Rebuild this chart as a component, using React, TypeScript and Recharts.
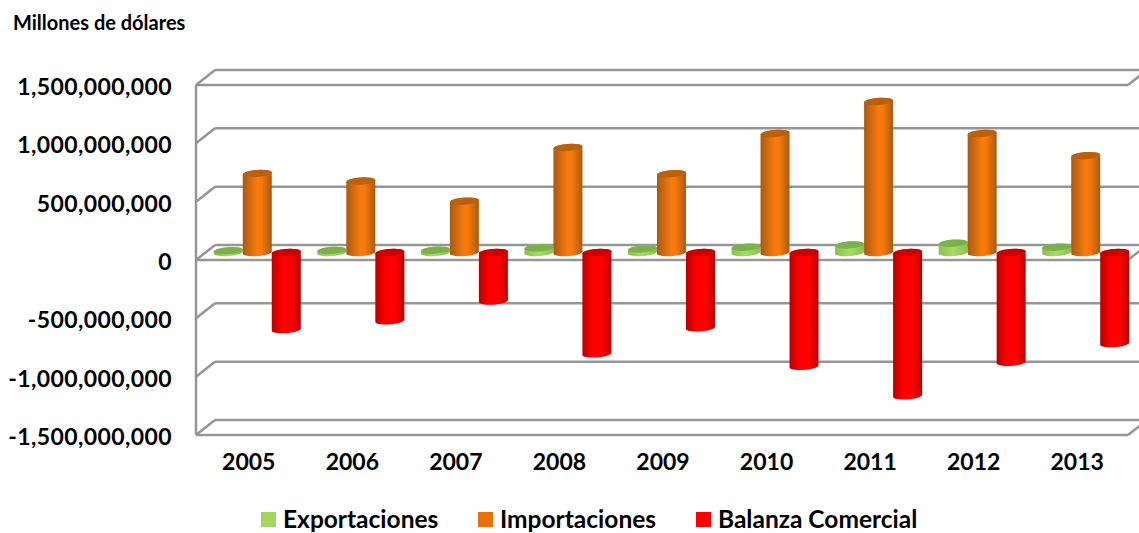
import React from 'react';
import { BarChart, Bar, XAxis, YAxis, CartesianGrid, Legend } from 'recharts';

const years = ['2005', '2006', '2007', '2008', '2009', '2010', '2011', '2012', '2013'];
const exportaciones = [15000000, 18000000, 20000000, 40000000, 30000000, 45000000, 65000000, 80000000, 45000000];
const importaciones = [677000000, 612000000, 440000000, 900000000, 675000000, 1020000000, 1295000000, 1020000000, 830000000];
const balanza = [-660000000, -585000000, -415000000, -868000000, -645000000, -975000000, -1228000000, -940000000, -780000000];
const yTicks = [-1500000000, -1000000000, -500000000, 0, 500000000, 1000000000, 1500000000];

const data = years.map((year, i) => ({
  year,
  exportaciones: exportaciones[i],
  importaciones: importaciones[i],
  balanza: balanza[i],
}));

const FONT = 'Lato, sans-serif';
const GRID = '#969696';
const DEPTH_X = 19;
const DEPTH_Y = 15;

// back wall line plus the slanted edge joining it to the front axis
const WallLine = (props: any) => {
  const { x1, x2, y1, index } = props;
  const front = index === 3 || index === 6 || y1 === 259.5 || y1 === 435;
  return (
    <g stroke={GRID} strokeWidth={2.5} fill="none">
      <line x1={x1} y1={y1} x2={x1 + DEPTH_X} y2={y1 - DEPTH_Y} />
      <line x1={x1 + DEPTH_X} y1={y1 - DEPTH_Y} x2={x2 + DEPTH_X} y2={y1 - DEPTH_Y} />
      {front && <line x1={x1} y1={y1} x2={x2} y2={y1} />}
      {front && <line x1={x2} y1={y1} x2={x2 + DEPTH_X} y2={y1 - DEPTH_Y} />}
    </g>
  );
};

const makeCylinder = (gradient: string, capColor: string) => (props: any) => {
  const { x, y, width, height } = props;
  const left = x + DEPTH_X / 2 + 0.5;
  const top = Math.min(y, y + height) - DEPTH_Y / 2;
  const bottom = Math.max(y, y + height) - DEPTH_Y / 2;
  const rx = width / 2;
  const ry = 3.6;
  const tilt = 1.4;
  const body =
    `M${left},${top + tilt} L${left},${bottom + tilt} ` +
    `A${rx},${ry} -4 0 0 ${left + width},${bottom - tilt} ` +
    `L${left + width},${top - tilt} ` +
    `A${rx},${ry} -4 0 0 ${left},${top + tilt} Z`;
  return (
    <g>
      <path d={body} fill={`url(#${gradient})`} />
      <ellipse
        cx={left + rx}
        cy={top}
        rx={rx}
        ry={ry}
        fill={capColor}
        transform={`rotate(-4 ${left + rx} ${top})`}
      />
    </g>
  );
};

const GreenCylinder = makeCylinder('gradGreen', '#7bb04a');
const OrangeCylinder = makeCylinder('gradOrange', '#b9610c');
const RedCylinder = makeCylinder('gradRed', '#c80000');

const LegendRow = ({ payload }: any) => (
  <div style={{ position: 'relative', height: 24, width: 1139 }}>
    {(payload || []).map((entry: any, i: number) => (
      <div
        key={entry.value}
        style={{
          position: 'absolute',
          left: [261, 478, 696][i],
          top: 0,
          display: 'flex',
          alignItems: 'center',
          height: 24,
          lineHeight: '24px',
          fontFamily: FONT,
          fontWeight: 700,
          fontSize: 24.5,
          color: '#000',
          whiteSpace: 'nowrap',
        }}
      >
        <span style={{ width: 15, height: 15, background: entry.color, marginRight: 7 }} />
        {entry.value}
      </div>
    ))}
  </div>
);

export default function App() {
  return (
    <div style={{ position: 'absolute', left: 0, top: 0, width: 1139, height: 533, background: '#fff', overflow: 'hidden' }}>
      <BarChart
        width={1139}
        height={533}
        data={data}
        margin={{ top: 85, right: 11, bottom: 34, left: 0 }}
        barCategoryGap="7.5%"
        barGap={0}
      >
        <defs>
          <linearGradient id="gradGreen" x1="0" y1="0" x2="1" y2="0">
            <stop offset="0" stopColor="#8cc052" />
            <stop offset="0.5" stopColor="#a6dc64" />
            <stop offset="1" stopColor="#8cc052" />
          </linearGradient>
          <linearGradient id="gradOrange" x1="0" y1="0" x2="1" y2="0">
            <stop offset="0" stopColor="#a85a12" />
            <stop offset="0.5" stopColor="#fa7b0c" />
            <stop offset="0.65" stopColor="#f5780c" />
            <stop offset="1" stopColor="#a85a12" />
          </linearGradient>
          <linearGradient id="gradRed" x1="0" y1="0" x2="1" y2="0">
            <stop offset="0" stopColor="#b80000" />
            <stop offset="0.35" stopColor="#ff0000" />
            <stop offset="0.7" stopColor="#ff0000" />
            <stop offset="1" stopColor="#b80000" />
          </linearGradient>
        </defs>
        <text x={13} y={30} fontFamily={FONT} fontWeight={700} fontSize={20} fill="#000">
          Millones de dólares
        </text>
        <CartesianGrid vertical={false} horizontal={(p: any) => <WallLine {...p} />} />
        <XAxis
          dataKey="year"
          height={40}
          axisLine={false}
          tickLine={false}
          tickMargin={13}
          tick={{ fontFamily: FONT, fontWeight: 700, fontSize: 23, fill: '#000', dx: 1 }}
        />
        <YAxis
          width={196}
          domain={[-1500000000, 1500000000]}
          ticks={yTicks}
          interval={0}
          axisLine={{ stroke: GRID, strokeWidth: 2.5 }}
          tickLine={false}
          tickMargin={18}
          tickFormatter={(v: number) => v.toLocaleString('en-US')}
          tick={{ fontFamily: FONT, fontWeight: 700, fontSize: 23, letterSpacing: 0.4, fill: '#000', dy: 2 }}
        />
        <Legend
          verticalAlign="bottom"
          height={24}
          itemSorter={null}
          wrapperStyle={{ left: 0, top: 507, width: 1139 }}
          content={<LegendRow />}
        />
        <Bar dataKey="exportaciones" name="Exportaciones" fill="#a2d660" shape={GreenCylinder} isAnimationActive={false} />
        <Bar dataKey="importaciones" name="Importaciones" fill="#ea7008" shape={OrangeCylinder} isAnimationActive={false} />
        <Bar dataKey="balanza" name="Balanza Comercial" fill="#ff0000" shape={RedCylinder} isAnimationActive={false} />
      </BarChart>
    </div>
  );
}
